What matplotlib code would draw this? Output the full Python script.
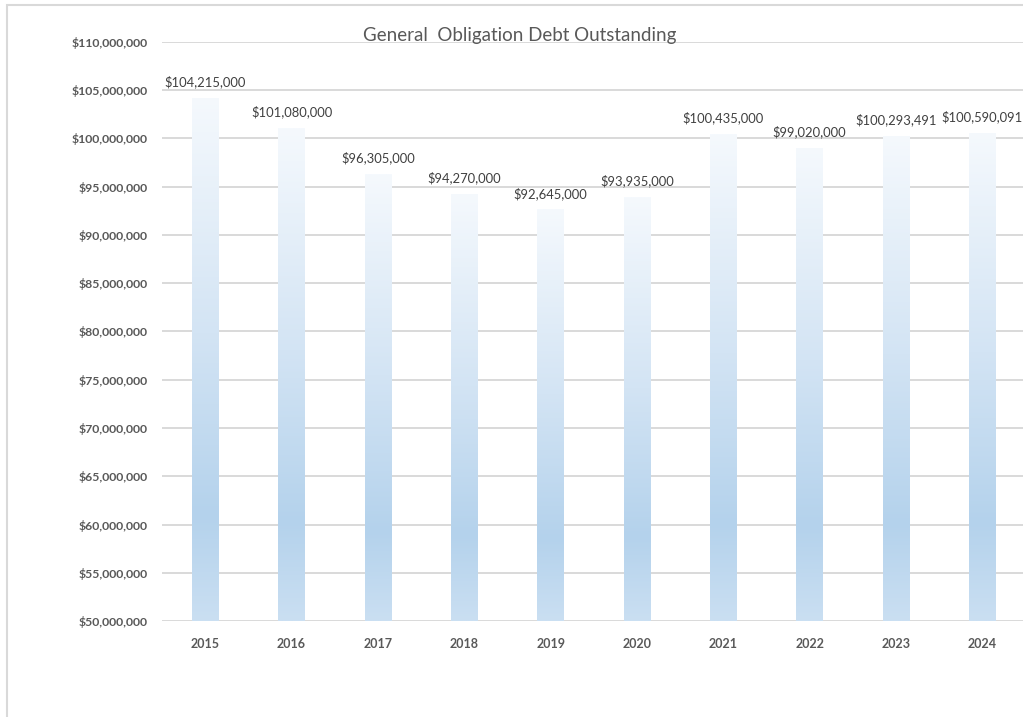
import matplotlib.pyplot as plt
import numpy as np
from matplotlib.colors import LinearSegmentedColormap
from matplotlib.patches import Rectangle
from matplotlib.ticker import FuncFormatter, MultipleLocator

plt.rcParams["font.family"] = ["Lato", "DejaVu Sans"]

years = ["2015", "2016", "2017", "2018", "2019", "2020", "2021", "2022", "2023", "2024"]
debt = [104215000, 101080000, 96305000, 94270000, 92645000,
        93935000, 100435000, 99020000, 100293491, 100590091]

Y_MIN = 50_000_000
Y_MAX = 110_000_000

# light at the top, deepest blue near the base, a little lighter at the foot
BAR_CMAP = LinearSegmentedColormap.from_list(
    "bar_fade",
    [(0.0, "#F5F9FD"), (0.45, "#D3E4F4"), (0.8, "#B4D2EC"), (1.0, "#CADFF2")],
)

fig = plt.figure(figsize=(10.23, 7.17), dpi=100)
ax = fig.add_axes([162 / 1023, 1 - 621 / 717, 861 / 1023, 579 / 717])

x = np.arange(len(years))
bars = ax.bar(x, debt, width=0.31, color="none", edgecolor="none", zorder=2)

grad = np.linspace(0, 1, 256).reshape(-1, 1)
for bar in bars:
    x0 = bar.get_x()
    x1 = x0 + bar.get_width()
    im = ax.imshow(grad, cmap=BAR_CMAP, aspect="auto", zorder=2,
                   extent=[x0, x1, Y_MIN, bar.get_height()], origin="upper")
    im.set_clip_path(bar)

for xi, val in zip(x, debt):
    ax.annotate(f"${val:,.0f}", (xi, val), xytext=(0, 7), textcoords="offset points",
                ha="center", va="bottom", fontsize=9.4, color="#404040")

ax.set_xlim(-0.5, 9.47)
ax.set_ylim(Y_MIN, Y_MAX)
ax.yaxis.set_major_locator(MultipleLocator(5_000_000))
ax.yaxis.set_major_formatter(FuncFormatter(lambda v, p: f"${v:,.0f}"))
ax.set_xticks(x)
ax.set_xticklabels(years)

ax.grid(axis="y", color="#D9D9D9", linewidth=1.4, zorder=0)
ax.set_axisbelow(True)
for side in ["top", "right", "left", "bottom"]:
    ax.spines[side].set_visible(False)
ax.tick_params(axis="y", length=0, labelsize=8.8, labelcolor="#595959", pad=10.5)
ax.tick_params(axis="x", length=0, labelsize=9, labelcolor="#595959", pad=12)
for lbl in ax.get_xticklabels() + ax.get_yticklabels():
    lbl.set_fontweight("bold")

fig.text(520 / 1023, 1 - 36 / 717, "General  Obligation Debt Outstanding",
         ha="center", va="center", fontsize=13.5, color="#595959")

# outer chart frame
fig.patches.append(Rectangle((7 / 1023, -0.05), 1.2, 1 - 5 / 717 + 0.05,
                             transform=fig.transFigure, fill=False,
                             edgecolor="#D9D9D9", linewidth=1.5, zorder=0))

fig.savefig("out.png", dpi=100)
